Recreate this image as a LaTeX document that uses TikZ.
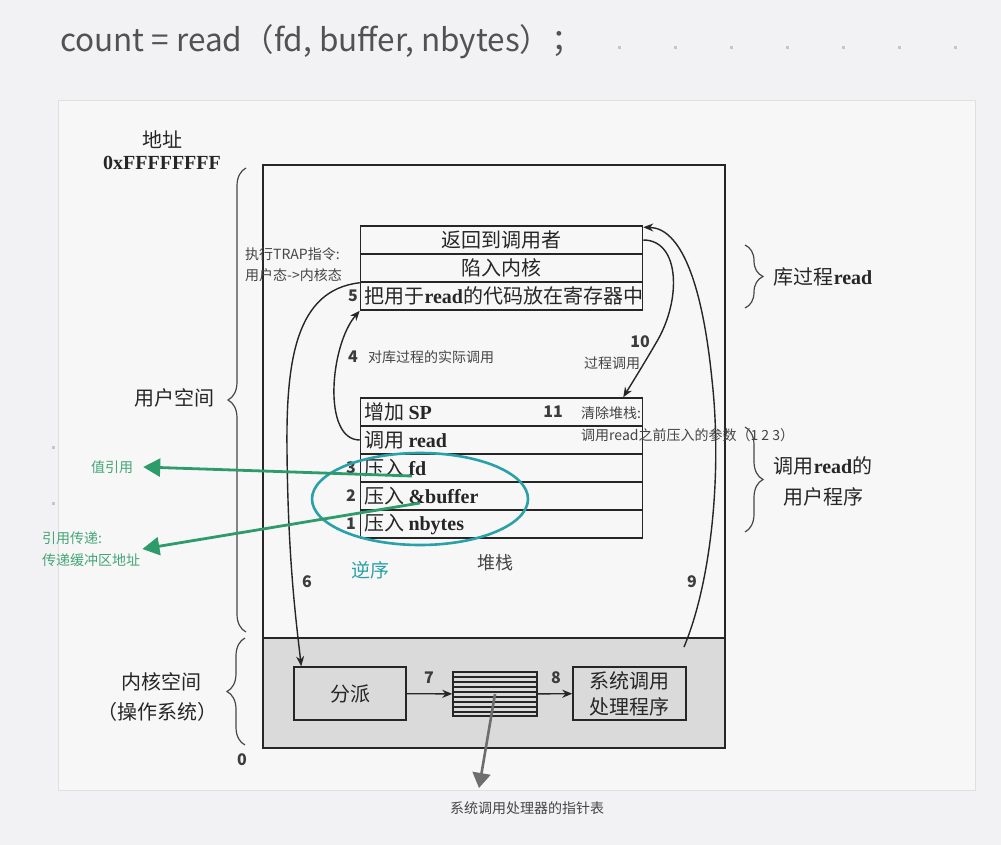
\documentclass[tikz,border=0pt]{standalone}
\usepackage{fontspec}
\setmainfont{Liberation Serif}
\newfontfamily\cjk{Noto Sans CJK SC}
\newfontfamily\scanlat{Liberation Serif}
\usetikzlibrary{arrows.meta,decorations.pathreplacing,positioning}

\definecolor{pagebg}{HTML}{F2F2F4}
\definecolor{scanbg}{HTML}{F7F7F7}
\definecolor{ink}{HTML}{262626}
\definecolor{notegray}{HTML}{454545}
\definecolor{kerngray}{HTML}{DADADA}
\definecolor{refgreen}{HTML}{2E9B6A}
\definecolor{refgreentxt}{HTML}{45A577}
\definecolor{ringteal}{HTML}{2AA0A8}
\definecolor{ptrgray}{HTML}{6E6E6E}

% latin words inside the scanned labels
\newcommand\rl[1]{{\scanlat\bfseries #1}}

\tikzset{
  scan/.style={font=\cjk\fontsize{20}{24}\selectfont,text=ink},
  scannum/.style={font=\cjk\bfseries\fontsize{16}{19}\selectfont,text=ink!90,inner sep=1pt},
  note/.style={font=\cjk\fontsize{14}{17}\selectfont,text=notegray,inner sep=1pt},
  cell/.style={scan,draw=ink,line width=1.5pt,minimum height=28pt,text width=274pt,inner xsep=4pt,inner ysep=0pt},
  kbox/.style={draw=ink,line width=1.5pt,fill=kerngray,inner sep=0pt},
  flow/.style={ink,line width=1.4pt,-{Stealth[length=10pt,width=8pt]}},
  pbrace/.style={decorate,decoration={brace,amplitude=18pt},draw=ink!85,line width=1.2pt},
  valarrow/.style={refgreen,line width=2.8pt,-{Triangle[length=17pt,width=18pt]}},
  greenlbl/.style={font=\cjk\fontsize{14}{22}\selectfont,text=refgreentxt,inner sep=2pt},
}

\begin{document}
\begin{tikzpicture}[x=1pt,y=-1pt]
\fill[pagebg] (0,0) rectangle (1001,845);
\useasboundingbox (0,0) rectangle (1001,845);
\fill[scanbg,draw=black!12] (58,100) rectangle (975,790);
%
\node[anchor=west,inner sep=0pt,font=\cjk\fontsize{31.5}{35}\selectfont,text=black!68] (head) at (60,42) {count = read（fd, buffer, nbytes）；};
\foreach \x in {619,675,...,959}\fill[black!22] (\x-1.5,46) rectangle +(3,3);
\foreach \y in {446,502}\fill[black!22] (52,\y) rectangle +(3,3);
%
\node[scan] (addr) at (162,140) {地址};
\node[scan,font=\scanlat\bfseries\fontsize{20}{24}\selectfont] (topaddr) at (162,163) {0xFFFFFFFF};
\node[scannum] (zero) at (242,760) {0};
% memory
\fill[kerngray] (263,638) rectangle (725,748);
\draw[ink,line width=1.5pt] (263,165) rectangle (725,748) (263,638) -- (725,638);
%
\foreach \y/\t [count=\i] in {240/返回到调用者,268/陷入内核,296/把用于\rl{read}的代码放在寄存器中}
\node[cell,align=center] (lib\i) at (501.5,\y) {\t};
\foreach \y/\t [count=\i] in {412/增加\hspace{4pt}\rl{SP},440/调用\hspace{4pt}\rl{read},468/压入\hspace{4pt}\rl{fd},496/压入\hspace{4pt}\rl{\&buffer},524/压入\hspace{4pt}\rl{nbytes}}
\node[cell,align=left] (stk\i) at (501.5,\y) {\t};
\node[scannum] (n5) at (353,296) {5};
\foreach \y/\n in {468/3,496/2,524/1}\node[scannum] (n\n) at (351,\y) {\n};
\node[scannum] (n11) at (553,412) {11};
% kernel
\node[kbox,scan,minimum width=112pt,minimum height=53pt] (disp) at (350,693.5) {分派};
\node[kbox,minimum width=84pt,minimum height=44pt] (tbl) at (495,694) {};
\foreach \y in {677,682,...,712}\draw[ink,line width=1.2pt] (453,\y) -- (537,\y);
\node[kbox,scan,font=\cjk\fontsize{20}{26}\selectfont,align=center,minimum width=113pt,minimum height=53pt] (hdl) at (629.5,693.5) {系统调用\\处理程序};
\draw[flow] (disp) -- (tbl);
\draw[flow] (tbl) -- (hdl);
\node[scannum] (n7) at (429,678) {7};
\node[scannum] (n8) at (556,678) {8};
% steps 4, 6, 9, 10
\draw[flow] (stk2.west) .. controls (322,440) and (330,345) .. (lib3.south west);
\draw[flow] (lib2.south west) .. controls (296,290) and (286,360) .. (287,450) .. controls (288,560) and (296,620) .. ([xshift=8pt]disp.north west);
\coordinate (from9) at (684,647);
\draw[flow] (from9) .. controls (712,580) and (722,470) .. (712,380) .. controls (702,280) and (680,228) .. ([yshift=-2pt]lib1.north east);
\draw[flow] (lib1.east) .. controls (680,240) and (682,300) .. (656,343) .. controls (645,362) and (632,383) .. ([xshift=-20pt]stk1.north east);
\node[scannum] (n4) at (353,357) {4};
\node[scannum] (n6) at (307,582) {6};
\node[scannum] (n9) at (692,582) {9};
\node[scannum] (n10) at (640,342) {10};
%
\node[note,anchor=west] (trap) at (244,254) {执行TRAP指令:};
\node[note,anchor=west] (mode) at (244,275) {用户态->内核态};
\node[note,anchor=west] (libcall) at (367,357) {对库过程的实际调用};
\node[note] (proc) at (612,363) {过程调用};
\node[note,anchor=west] (clr) at (580,413) {清除堆栈:};
\node[note,anchor=west] (args) at (580,435) {调用read之前压入的参数（1 2 3）};
% braces
\draw[pbrace] (246,632) -- (246,168);
\draw[pbrace] (245,745) -- (245,638);
\draw[pbrace] (745,245) -- (745,308);
\draw[pbrace] (745,427) -- (745,532);
\node[scan] (user) at (174,398) {用户空间};
\node[scan] (kern) at (161,682) {内核空间};
\node[scan] (os) at (157,712) {（操作系统）};
\node[scan] (libproc) at (823,277) {库过程\rl{read}};
\node[scan,font=\cjk\fontsize{20}{31}\selectfont,align=center] (caller) at (823,481) {调用\rl{read}的\\用户程序};
% notes in colour
\draw[ringteal,line width=2.6pt] (420,499) ellipse [x radius=108, y radius=46];
\node[font=\cjk\fontsize{19}{22}\selectfont,text=ringteal] (rev) at (370,570) {逆序};
\node[font=\cjk\fontsize{18}{22}\selectfont,text=notegray] (stack) at (495,563) {堆栈};
\coordinate (fdend) at (412,476);
\coordinate (bufend) at (420,503);
\node[greenlbl] (byval) at (112,467) {值引用};
\node[greenlbl,align=left,anchor=west] (byref) at (40,549) {引用传递:\\传递缓冲区地址};
\draw[valarrow] (fdend) -- ([xshift=8pt]byval.east);
\draw[valarrow] (bufend) -- (byref.east);
%
\coordinate (ptrtip) at (479,788);
\draw[ptrgray,line width=2.6pt,-{Triangle[length=15pt,width=18pt]}] (tbl.center) -- (ptrtip);
\node[note] (ptrlbl) at (527,808) {系统调用处理器的指针表};
\end{tikzpicture}
\end{document}
